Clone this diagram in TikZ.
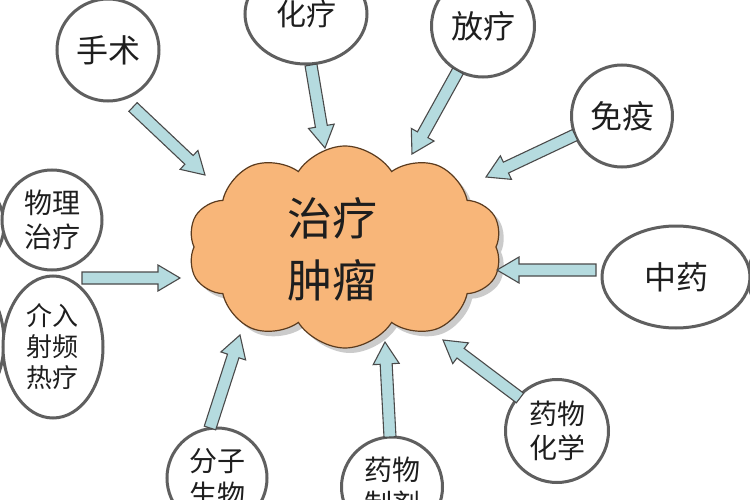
\documentclass[tikz,border=0pt]{standalone}
\usepackage{fontspec}
\newfontfamily\cjk{Noto Sans CJK SC}
\usetikzlibrary{shapes.geometric,shapes.symbols,shadows,calc}
\definecolor{cloudfill}{HTML}{F8B679}
\definecolor{cloudline}{HTML}{5B3B1E}
\definecolor{ringc}{HTML}{5F5F5F}
\definecolor{arrowfill}{HTML}{B5DBDF}
\definecolor{arrowline}{HTML}{4A4A4A}
\definecolor{txt}{HTML}{1E1E1E}
\begin{document}
\begin{tikzpicture}[x=1pt,y=1pt,
 bubble/.style={ellipse, draw=ringc, line width=3pt, fill=white, inner sep=0pt, text=txt, align=center},
 bigtxt/.style={font=\cjk\fontsize{32}{36}\selectfont},
 midtxt/.style={font=\cjk\fontsize{28}{34}\selectfont},
 barrow/.style={draw=arrowline, fill=arrowfill, line width=1.1pt, line join=miter,
  to path={let \p1=(\tikztostart), \p2=(\tikztotarget),
   \n1={atan2(\y2-\y1,\x2-\x1)}, \n2={veclen(\x2-\x1,\y2-\y1)},
   \n3={\n2-22}, \n4={\n1+90}, \n5={\n1-90} in
   ($(\p1)+(\n4:6)$) -- ($(\p1)+(\n1:\n3)+(\n4:6)$) -- ($(\p1)+(\n1:\n3)+(\n4:13)$) -- (\p2)
   -- ($(\p1)+(\n1:\n3)+(\n5:13)$) -- ($(\p1)+(\n1:\n3)+(\n5:6)$) -- ($(\p1)+(\n5:6)$) -- cycle}}
]
\fill[white] (0,0) rectangle (750,-500);
\useasboundingbox (0,0) rectangle (750,-500);

% partial bubbles at the edges
\begin{scope}
\clip (0,0) rectangle (750,-500);
\draw[draw=ringc, line width=3pt, fill=white] (-46,-225) ellipse [x radius=50, y radius=50];
\draw[draw=ringc, line width=3pt, fill=white] (-46,-342) ellipse [x radius=50, y radius=70];
\draw[draw=ringc, line width=3pt, fill=white] (800,-277) ellipse [x radius=52, y radius=50];
\end{scope}

% central cloud
\node[cloud, cloud puffs=10, cloud puff arc=115, aspect=1.6, draw=cloudline, fill=cloudfill,
  line width=1.2pt, minimum width=314pt, minimum height=202pt, inner sep=0pt,
  drop shadow={shadow xshift=5pt, shadow yshift=-5pt, fill=black!40}] (cloud) at (345,-247) {};
\node[font=\cjk\fontsize{45}{62}\selectfont, text=txt, align=center] (ctext) at (332,-249) {治疗\\肿瘤};

% bubbles
\node[bubble, bigtxt, minimum width=102pt, minimum height=102pt] (shoushu) at (108,-50) {手术};
\node[bubble, font=\cjk\fontsize{30}{34}\selectfont, minimum width=122pt, minimum height=100pt] (hualiao) at (306,-14) {化疗};
\node[bubble, bigtxt, minimum width=103pt, minimum height=102pt] (fangliao) at (483,-26) {放疗};
\node[bubble, bigtxt, minimum width=101pt, minimum height=102pt] (mianyi) at (622,-116) {免疫};
\node[bubble, midtxt, minimum width=100pt, minimum height=100pt] (wuli) at (52,-220) {物理\\治疗};
\node[bubble, font=\cjk\fontsize{26}{31}\selectfont, minimum width=100pt, minimum height=142pt] (jieru) at (53,-347) {介入\\射频\\热疗};
\node[bubble, midtxt, minimum width=100pt, minimum height=100pt] (fenzi) at (217,-478) {分子\\生物};
\node[bubble, midtxt, minimum width=101pt, minimum height=100pt] (zhiji) at (392,-487) {药物\\制剂};
\node[bubble, midtxt, minimum width=103pt, minimum height=103pt] (huaxue) at (557,-431) {药物\\化学};
\node[bubble, bigtxt, minimum width=148pt, minimum height=102pt] (zhongyao) at (676,-277) {中药};

% arrow ends
\coordinate (t1) at (133,-107); \coordinate (h1) at (205,-175);
\coordinate (t2) at (311,-65);  \coordinate (h2) at (325,-148);
\coordinate (t3) at (458,-71);  \coordinate (h3) at (412,-154);
\coordinate (t4) at (575,-135); \coordinate (h4) at (486,-177);
\coordinate (t5) at (82,-278);  \coordinate (h5) at (180,-278);
\coordinate (t6) at (596,-270); \coordinate (h6) at (497,-270);
\coordinate (t7) at (210,-428); \coordinate (h7) at (240,-335);
\coordinate (t8) at (390,-437); \coordinate (h8) at (385,-342);
\coordinate (t9) at (520,-398); \coordinate (h9) at (443,-340);

\foreach \i in {1,...,9} { \draw[barrow] (t\i) to (h\i); }
\end{tikzpicture}
\end{document}
